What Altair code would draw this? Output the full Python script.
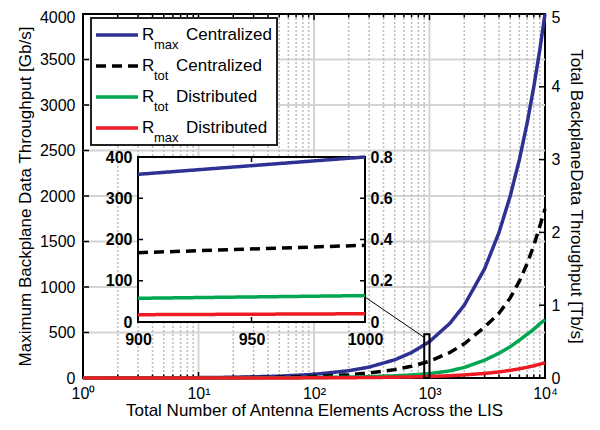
import altair as alt
import pandas as pd

# ---------------- data ----------------
N = [1, 2, 5, 10, 20, 50, 100, 200, 300, 500, 700, 1000, 1500, 2000, 3000,
     4000, 5000, 6000, 7000, 8000, 9000, 10000]
# Gb/s (left axis)
rmax_cent = [0.4, 0.8, 2, 4, 8, 20, 40, 80, 120, 200, 280, 400, 600, 800, 1200,
             1600, 2000, 2400, 2800, 3200, 3600, 4000]
rmax_dist = [0.017, 0.034, 0.085, 0.17, 0.34, 0.85, 1.7, 3.4, 5.1, 8.5, 11.9, 17,
             25, 34, 50, 67, 84, 101, 118, 134, 151, 168]
# Tb/s (right axis)
rtot_cent = [0.0002, 0.0005, 0.0012, 0.0023, 0.0046, 0.0115, 0.023, 0.046, 0.069,
             0.115, 0.161, 0.23, 0.35, 0.47, 0.70, 0.89, 1.10, 1.33, 1.57, 1.82,
             2.08, 2.32]
rtot_dist = [0.0001, 0.0001, 0.0003, 0.0006, 0.0012, 0.003, 0.006, 0.012, 0.018,
             0.03, 0.042, 0.06, 0.098, 0.145, 0.245, 0.34, 0.43, 0.52, 0.60, 0.67,
             0.745, 0.80]

# inset (zoom on 900..1000)
inset_N = [900, 1000]
inset_rmax_cent = [358, 400]
inset_rmax_dist = [17.7, 20]
inset_rtot_cent = [0.336, 0.372]
inset_rtot_dist = [0.115, 0.128]

series = ["Rmax Centralized", "Rtot Centralized", "Rtot Distributed", "Rmax Distributed"]
legend_sub = ["max", "tot", "tot", "max"]
legend_text = ["Centralized", "Centralized", "Distributed", "Distributed"]
colors = ["#2e3192", "#000000", "#00a651", "#ed1c24"]
dashes = [[1, 0], [10, 6], [1, 0], [1, 0]]

left_ticks = [0, 500, 1000, 1500, 2000, 2500, 3000, 3500, 4000]
right_ticks = [0, 1, 2, 3, 4, 5]
decades = [1, 10, 100, 1000, 10000]
minor = [m * d for d in [1, 10, 100, 1000] for m in range(2, 10)]
inset_x_ticks = [900, 950, 1000]
inset_left_ticks = [0, 100, 200, 300, 400]
inset_right_ticks = [0, 0.2, 0.4, 0.6, 0.8]
zoom_box = {"x0": [900], "x1": [1000], "y0": [0], "y1": [480]}

# ---------------- layout ----------------
W, H = 462, 364
INSET_X = [55, 282]
INSET_Y = [308, 143]
FONT = "Liberation Sans"

xs = alt.Scale(type="log", domain=[1, 10000], nice=False)
yl = alt.Scale(domain=[0, 4000], nice=False)
yr = alt.Scale(domain=[0, 5], nice=False)
ixs = alt.Scale(domain=[900, 1000], range=INSET_X, nice=False)
iyl = alt.Scale(domain=[0, 400], range=INSET_Y, nice=False)
iyr = alt.Scale(domain=[0, 0.8], range=INSET_Y, nice=False)
cs = alt.Scale(domain=series, range=colors)
ds = alt.Scale(domain=series, range=dashes)
ls = alt.Scale(type="point", domain=series, range=[21, 114], padding=0)

color = alt.Color("series:N", scale=cs, legend=None)
dash = alt.StrokeDash("series:N", scale=ds, legend=None)


def long(xv, cols, names):
    rows = []
    for c, n in zip(cols, names):
        for a, b in zip(xv, c):
            rows.append({"N": a, "v": b, "series": n})
    return pd.DataFrame(rows)


main_left = long(N, [rmax_cent, rmax_dist], [series[0], series[3]])
main_right = long(N, [rtot_cent, rtot_dist], [series[1], series[2]])
ins_left = long(inset_N, [inset_rmax_cent, inset_rmax_dist], [series[0], series[3]])
ins_right = long(inset_N, [inset_rtot_cent, inset_rtot_dist], [series[1], series[2]])

GRID = "#d4d4d4"

# ---- grid ----
ygrid = alt.Chart(pd.DataFrame({"v": left_ticks[1:-1]})).mark_rule(
    color=GRID, strokeWidth=2).encode(
    y=alt.Y("v:Q", scale=yl, axis=alt.Axis(
        orient="left", values=left_ticks, format="d", grid=False, ticks=False,
        domain=False, labelPadding=8,
        labelOffset={"condition": {"test": "datum.value == 4000", "value": 3}, "value": 0},
        title="Maximum Backplane Data Throughput [Gb/s]", titlePadding=5)))

xminor = alt.Chart(pd.DataFrame({"N": minor})).mark_rule(
    color="#bdbdbd", strokeWidth=1.5, strokeDash=[2, 2]).encode(
    x=alt.X("N:Q", scale=xs, axis=alt.Axis(
        orient="bottom", values=decades, grid=False, ticks=False, domain=False,
        labelFlush=False, labelOverlap=False, labelPadding=7,
        labelExpr="'10' + ['⁰','¹','²','³','⁴'][round(log(datum.value) / LN10)]",
        title="Total Number of Antenna Elements Across the LIS", titlePadding=1)))

xmajor = alt.Chart(pd.DataFrame({"N": decades[1:-1]})).mark_rule(
    color=GRID, strokeWidth=2).encode(x=alt.X("N:Q", scale=xs, axis=None))

# ---- inward ticks ----
def xticks(vals, length):
    d = pd.DataFrame({"N": vals})
    b = alt.Chart(d).mark_rule(color="black", strokeWidth=1.5).encode(
        x=alt.X("N:Q", scale=xs, axis=None), y=alt.value(H), y2=alt.value(H - length))
    t = alt.Chart(d).mark_rule(color="black", strokeWidth=1.5).encode(
        x=alt.X("N:Q", scale=xs, axis=None), y=alt.value(0), y2=alt.value(length))
    return [b, t]

lticks = alt.Chart(pd.DataFrame({"v": left_ticks})).mark_rule(
    color="black", strokeWidth=1.5).encode(
    y=alt.Y("v:Q", scale=yl, axis=None), x=alt.value(0), x2=alt.value(6))

rticks = alt.Chart(pd.DataFrame({"v": right_ticks})).mark_rule(
    color="black", strokeWidth=1.5).encode(
    y=alt.Y("v:Q", scale=yr, axis=alt.Axis(
        orient="right", values=right_ticks, format="d", grid=False, ticks=False,
        domain=False, labelPadding=6,
        labelOffset={"condition": {"test": "datum.value == 5", "value": 3}, "value": 0},
        title="Total BackplaneData Throughput [Tb/s]", titlePadding=7)),
    x=alt.value(W - 6), x2=alt.value(W))

# ---- main curves ----
def curve(df, series_name, xscale, yscale):
    return alt.Chart(df).transform_filter(
        alt.datum.series == series_name).mark_line(strokeWidth=3.5).encode(
        x=alt.X("N:Q", scale=xscale, axis=None),
        y=alt.Y("v:Q", scale=yscale, axis=None),
        color=color, strokeDash=dash)

blue = curve(main_left, series[0], xs, yl)
black = curve(main_right, series[1], xs, yr)
green = curve(main_right, series[2], xs, yr)
red = curve(main_left, series[3], xs, yl)

zoomrect = alt.Chart(pd.DataFrame(zoom_box)).mark_rect(
    fillOpacity=0, stroke="black", strokeWidth=2).encode(
    x=alt.X("x0:Q", scale=xs, axis=None), x2="x1:Q",
    y=alt.Y("y0:Q", scale=yl, axis=None), y2="y1:Q")

connector = alt.Chart(pd.DataFrame({"a": [0]})).mark_rule(
    color="black", strokeWidth=1).encode(
    x=alt.value(INSET_X[1]), x2=alt.value(342), y=alt.value(283), y2=alt.value(324))

# ---- inset ----
inset_box = alt.Chart(pd.DataFrame({"x0": [inset_N[0]], "x1": [inset_N[1]],
                                    "y0": [0], "y1": [400]})).mark_rect(
    fill="white", stroke="black", strokeWidth=2).encode(
    x=alt.X("x0:Q", scale=ixs, axis=alt.Axis(
        orient="bottom", offset=INSET_Y[0] - H, values=inset_x_ticks, format="d",
        grid=False, ticks=False, domain=False, labelFlush=False, labelPadding=9,
        labelFontWeight="bold", labelFontSize=16, title=None, zindex=1)),
    x2="x1:Q",
    y=alt.Y("y0:Q", scale=iyl, axis=alt.Axis(
        orient="left", offset=-INSET_X[0], values=inset_left_ticks, format="d",
        grid=False, ticks=False, domain=False, labelPadding=6,
        labelFontWeight="bold", labelFontSize=16, title=None, zindex=1)),
    y2="y1:Q")

ins_lt = alt.Chart(pd.DataFrame({"v": inset_left_ticks[1:-1]})).mark_rule(
    color="black", strokeWidth=1.5).encode(
    y=alt.Y("v:Q", scale=iyl, axis=None), x=alt.value(INSET_X[0]), x2=alt.value(INSET_X[0] + 5))
ins_rt = alt.Chart(pd.DataFrame({"v": inset_left_ticks[1:-1]})).mark_rule(
    color="black", strokeWidth=1.5).encode(
    y=alt.Y("v:Q", scale=iyl, axis=None), x=alt.value(INSET_X[1] - 5), x2=alt.value(INSET_X[1]))
ins_bt = alt.Chart(pd.DataFrame({"N": inset_x_ticks[1:-1]})).mark_rule(
    color="black", strokeWidth=1.5).encode(
    x=alt.X("N:Q", scale=ixs, axis=None), y=alt.value(INSET_Y[0]), y2=alt.value(INSET_Y[0] - 5))
ins_tt = alt.Chart(pd.DataFrame({"N": inset_x_ticks[1:-1]})).mark_rule(
    color="black", strokeWidth=1.5).encode(
    x=alt.X("N:Q", scale=ixs, axis=None), y=alt.value(INSET_Y[1]), y2=alt.value(INSET_Y[1] + 5))

iblue = curve(ins_left, series[0], ixs, iyl)
iblack = alt.Chart(ins_right).transform_filter(
    alt.datum.series == series[1]).mark_line(strokeWidth=3.5).encode(
    x=alt.X("N:Q", scale=ixs, axis=None),
    y=alt.Y("v:Q", scale=iyr, axis=alt.Axis(
        orient="right", offset=INSET_X[1] - W, values=inset_right_ticks,
        format=".1~f", grid=False, ticks=False, domain=False, labelPadding=5,
        labelFontWeight="bold", labelFontSize=16, title=None, zindex=1)),
    color=color, strokeDash=dash)
igreen = curve(ins_right, series[2], ixs, iyr)
ired = curve(ins_left, series[3], ixs, iyl)

# ---- legend ----
leg_df = pd.DataFrame({"series": series, "sub": legend_sub, "label": legend_text})
leg_box = alt.Chart(pd.DataFrame({"a": [0]})).mark_rect(
    fill="white", stroke="#222222", strokeWidth=2).encode(
    x=alt.value(8), x2=alt.value(194), y=alt.value(4), y2=alt.value(131))
leg_lines = alt.Chart(leg_df).mark_rule(strokeWidth=3.5).encode(
    y=alt.Y("series:N", scale=ls, axis=None), x=alt.value(13), x2=alt.value(55),
    color=color, strokeDash=dash)
leg_R = alt.Chart(leg_df).mark_text(
    text="R", align="left", baseline="middle", fontSize=17, font=FONT).encode(
    y=alt.Y("series:N", scale=ls, axis=None), x=alt.value(59))
leg_sub = alt.Chart(leg_df).mark_text(
    align="left", baseline="middle", fontSize=13, font=FONT, dy=10).encode(
    y=alt.Y("series:N", scale=ls, axis=None), x=alt.value(71), text="sub:N")
leg_lab_max = alt.Chart(leg_df).transform_filter(alt.datum.sub == "max").mark_text(
    align="left", baseline="middle", fontSize=17, font=FONT).encode(
    y=alt.Y("series:N", scale=ls, axis=None), x=alt.value(103), text="label:N")
leg_lab_tot = alt.Chart(leg_df).transform_filter(alt.datum.sub == "tot").mark_text(
    align="left", baseline="middle", fontSize=17, font=FONT).encode(
    y=alt.Y("series:N", scale=ls, axis=None), x=alt.value(93), text="label:N")

layers = [ygrid, xminor, xmajor] + xticks(decades, 6) + xticks(minor, 3.5) + [
    lticks, rticks, blue, black, green, red, zoomrect, connector,
    inset_box, ins_lt, ins_rt, ins_bt, ins_tt, iblue, iblack, igreen, ired,
    leg_box, leg_lines, leg_R, leg_sub, leg_lab_max, leg_lab_tot]

chart = alt.layer(*layers).resolve_scale(
    x="independent", y="independent").properties(
    width=W, height=H,
    autosize=alt.AutoSizeParams(type="none"),
    padding={"left": 75, "top": 6, "right": 47, "bottom": 44},
).configure_view(stroke="black", strokeWidth=2).configure_axis(
    labelFont=FONT, titleFont=FONT, labelFontSize=16, titleFontSize=17,
    labelColor="black", titleColor="black", titleFontWeight="normal")

chart.save("out.html", embed_options={"renderer": "svg", "actions": False})
